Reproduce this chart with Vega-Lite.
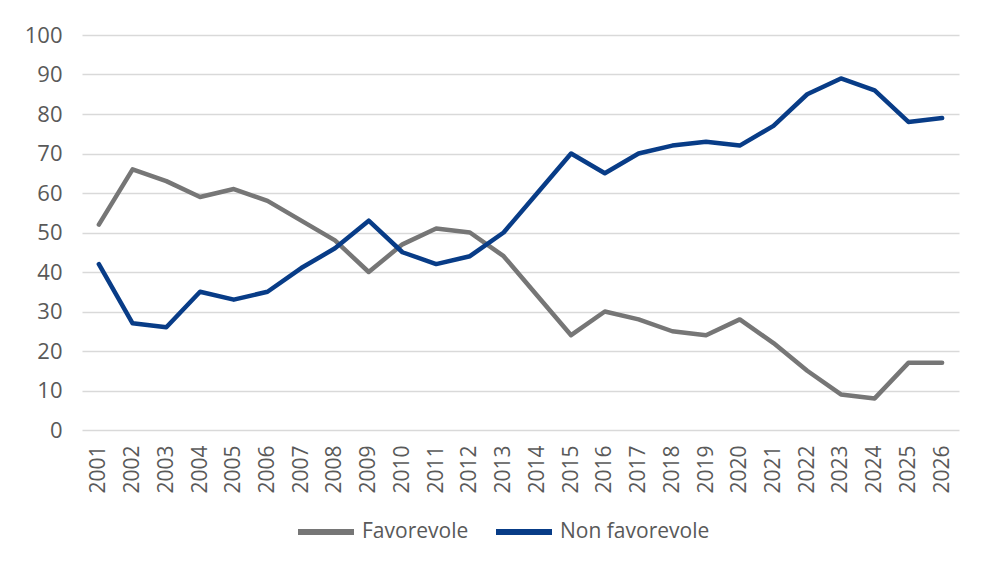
{
  "$schema": "https://vega.github.io/schema/vega-lite/v6.json",
  "width": 877,
  "height": 395,
  "autosize": {"type": "none"},
  "padding": {"left": 82, "top": 35, "right": 23, "bottom": 137},
  "background": "white",
  "config": {
    "view": {"stroke": null},
    "font": "Open Sans",
    "axis": {"labelFont": "Open Sans", "labelColor": "#595959"},
    "legend": {"labelFont": "Open Sans"}
  },
  "data": {
    "values": [
      {"anno": "2001", "serie": "Favorevole", "valore": 52},
      {"anno": "2002", "serie": "Favorevole", "valore": 66},
      {"anno": "2003", "serie": "Favorevole", "valore": 63},
      {"anno": "2004", "serie": "Favorevole", "valore": 59},
      {"anno": "2005", "serie": "Favorevole", "valore": 61},
      {"anno": "2006", "serie": "Favorevole", "valore": 58},
      {"anno": "2007", "serie": "Favorevole", "valore": 53},
      {"anno": "2008", "serie": "Favorevole", "valore": 48},
      {"anno": "2009", "serie": "Favorevole", "valore": 40},
      {"anno": "2010", "serie": "Favorevole", "valore": 47},
      {"anno": "2011", "serie": "Favorevole", "valore": 51},
      {"anno": "2012", "serie": "Favorevole", "valore": 50},
      {"anno": "2013", "serie": "Favorevole", "valore": 44},
      {"anno": "2014", "serie": "Favorevole", "valore": 34},
      {"anno": "2015", "serie": "Favorevole", "valore": 24},
      {"anno": "2016", "serie": "Favorevole", "valore": 30},
      {"anno": "2017", "serie": "Favorevole", "valore": 28},
      {"anno": "2018", "serie": "Favorevole", "valore": 25},
      {"anno": "2019", "serie": "Favorevole", "valore": 24},
      {"anno": "2020", "serie": "Favorevole", "valore": 28},
      {"anno": "2021", "serie": "Favorevole", "valore": 22},
      {"anno": "2022", "serie": "Favorevole", "valore": 15},
      {"anno": "2023", "serie": "Favorevole", "valore": 9},
      {"anno": "2024", "serie": "Favorevole", "valore": 8},
      {"anno": "2025", "serie": "Favorevole", "valore": 17},
      {"anno": "2026", "serie": "Favorevole", "valore": 17},
      {"anno": "2001", "serie": "Non favorevole", "valore": 42},
      {"anno": "2002", "serie": "Non favorevole", "valore": 27},
      {"anno": "2003", "serie": "Non favorevole", "valore": 26},
      {"anno": "2004", "serie": "Non favorevole", "valore": 35},
      {"anno": "2005", "serie": "Non favorevole", "valore": 33},
      {"anno": "2006", "serie": "Non favorevole", "valore": 35},
      {"anno": "2007", "serie": "Non favorevole", "valore": 41},
      {"anno": "2008", "serie": "Non favorevole", "valore": 46},
      {"anno": "2009", "serie": "Non favorevole", "valore": 53},
      {"anno": "2010", "serie": "Non favorevole", "valore": 45},
      {"anno": "2011", "serie": "Non favorevole", "valore": 42},
      {"anno": "2012", "serie": "Non favorevole", "valore": 44},
      {"anno": "2013", "serie": "Non favorevole", "valore": 50},
      {"anno": "2014", "serie": "Non favorevole", "valore": 60},
      {"anno": "2015", "serie": "Non favorevole", "valore": 70},
      {"anno": "2016", "serie": "Non favorevole", "valore": 65},
      {"anno": "2017", "serie": "Non favorevole", "valore": 70},
      {"anno": "2018", "serie": "Non favorevole", "valore": 72},
      {"anno": "2019", "serie": "Non favorevole", "valore": 73},
      {"anno": "2020", "serie": "Non favorevole", "valore": 72},
      {"anno": "2021", "serie": "Non favorevole", "valore": 77},
      {"anno": "2022", "serie": "Non favorevole", "valore": 85},
      {"anno": "2023", "serie": "Non favorevole", "valore": 89},
      {"anno": "2024", "serie": "Non favorevole", "valore": 86},
      {"anno": "2025", "serie": "Non favorevole", "valore": 78},
      {"anno": "2026", "serie": "Non favorevole", "valore": 79}
    ]
  },
  "mark": {"type": "line", "strokeWidth": 4.5, "strokeJoin": "round", "strokeCap": "round"},
  "encoding": {
    "x": {
      "field": "anno", "type": "ordinal", "title": null,
      "scale": {"type": "point", "padding": 0.5},
      "axis": {"labelAngle": -90, "labelAlign": "right", "labelBaseline": "middle", "labelFontSize": 21, "domain": false, "ticks": false, "labelPadding": 15, "grid": false}
    },
    "y": {
      "field": "valore", "type": "quantitative", "title": null,
      "scale": {"domain": [0, 100]},
      "axis": {"values": [0,10,20,30,40,50,60,70,80,90,100], "labelFontSize": 22, "domain": false, "ticks": false, "labelPadding": 20, "gridColor": "#d9d9d9", "gridWidth": 1.5}
    },
    "color": {
      "field": "serie", "type": "nominal",
      "scale": {"domain": ["Favorevole", "Non favorevole"], "range": ["#767676", "#083c87"]},
      "legend": {
        "title": null, "orient": "none", "direction": "horizontal",
        "legendX": 213, "legendY": 466,
        "symbolType": "stroke", "symbolStrokeWidth": 6, "symbolSize": 3136,
        "labelFontSize": 21, "labelColor": "#595959", "columnPadding": 15, "labelOffset": 5
      }
    }
  }
}
